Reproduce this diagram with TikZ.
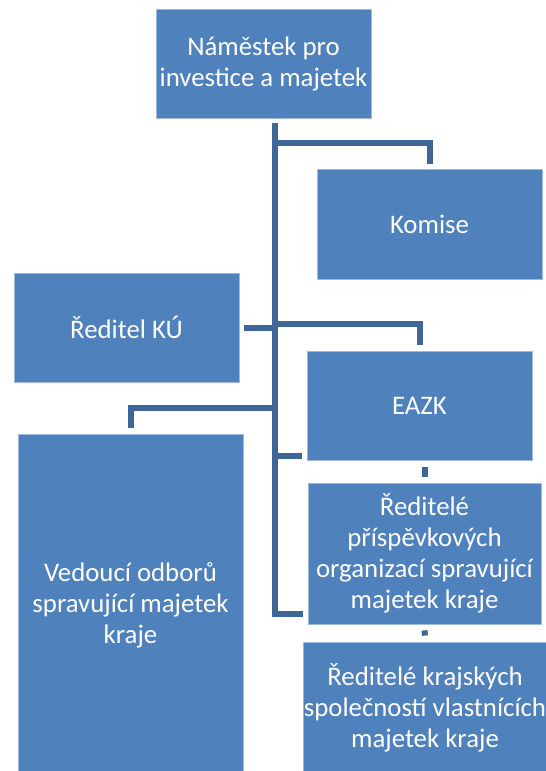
\documentclass[tikz,border=0pt]{standalone}
\usepackage{fontspec}
\setmainfont{Carlito}
\definecolor{boxblue}{HTML}{4F81BD}
\definecolor{linkblue}{HTML}{3E6696}
\begin{document}
\begin{tikzpicture}[x = 1pt, y = -1pt,
        box/.style = {fill = boxblue, draw = boxblue!55!white, line width = 0.8pt, text = white, align = center, inner sep = 0pt, font = \fontsize{26.8}{31}\selectfont},
        link/.style = {draw = linkblue, line width = 6pt}]
    \useasboundingbox (0, 0) rectangle (546, 771);
    \clip (0, 0) rectangle (546, 771);
    % boxes
    \node[box, minimum width = 215pt, minimum height = 109pt] (boss) at (263.5, 63.5) {Náměstek pro\\investice a majetek};
    \node[box, minimum width = 225pt, minimum height = 110pt] (komise) at (429.5, 224) {Komise};
    \node[box, minimum width = 225pt, minimum height = 109pt] (reditel) at (126.5, 327.5) {Ředitel KÚ};
    \node[box, minimum width = 225pt, minimum height = 109pt] (eazk) at (419.5, 405.5) {EAZK};
    \node[box, minimum width = 225pt, minimum height = 342pt] (vedouci) at (130.5, 605) {Vedoucí odborů\\spravující majetek\\kraje};
    \node[box, minimum width = 233pt, minimum height = 141pt] (po) at (424.5, 553.5) {Ředitelé\\příspěvkových\\organizací spravující\\majetek kraje};
    \node[box, minimum width = 242pt, minimum height = 132pt] (spol) at (425, 708) {Ředitelé krajských\\společností vlastnících\\majetek kraje};
    \coordinate (t) at (275, 0);
    % connectors
    \draw[link] ([yshift = -5pt]boss.south -| t) -- (t |- 0,614) -- ([xshift = -5pt]po.west |- 0,614);
    \draw[link] (t |- 0,143) -| ([yshift = 5pt]komise.north);
    \draw[link] (t |- 0,328) -- ([xshift = 5pt]reditel.east |- 0,328);
    \draw[link] (t |- 0,324) -| ([yshift = 6pt]eazk.north);
    \draw[link] (t |- 0,408) -| ([yshift = 6pt]vedouci.north);
    \draw[link] (t |- 0,456) -- ([xshift = -5pt]eazk.west |- 0,456);
    \draw[link] ([yshift = -7pt]eazk.south -| po.north) -- ([yshift = 6pt]po.north);
    \draw[link] ([yshift = -6pt]po.south) -- ([yshift = 6pt]spol.north);
\end{tikzpicture}
\end{document}
